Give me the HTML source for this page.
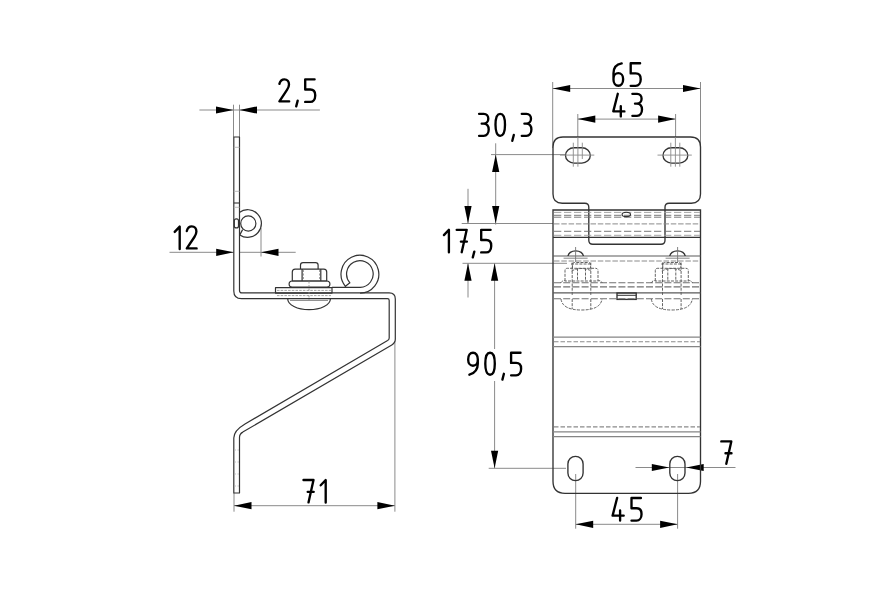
<!DOCTYPE html><html><head><meta charset="utf-8"><style>html,body{margin:0;padding:0;background:#fff;}svg{display:block;}</style></head><body>
<svg width="880" height="600" viewBox="0 0 880 600">
<rect width="880" height="600" fill="#fff"/>
<g stroke="#8a8a8a" stroke-width="1" fill="none">
<line x1="199.4" y1="110" x2="319.9" y2="110"/>
<line x1="233.5" y1="104.7" x2="233.5" y2="137"/>
<line x1="239.5" y1="104.7" x2="239.5" y2="137"/>
<line x1="169.5" y1="252.3" x2="295.7" y2="252.3"/>
<line x1="261" y1="228" x2="261" y2="256.5"/>
<line x1="234" y1="493" x2="234" y2="511.7"/>
<line x1="394.9" y1="338" x2="394.9" y2="511.7"/>
<line x1="234" y1="505.7" x2="394.9" y2="505.7"/>
<line x1="552.7" y1="82" x2="552.7" y2="148"/>
<line x1="700.5" y1="82" x2="700.5" y2="148"/>
<line x1="552.7" y1="88.5" x2="700.5" y2="88.5"/>
<line x1="577.8" y1="114" x2="577.8" y2="137"/>
<line x1="675.6" y1="114" x2="675.6" y2="137"/>
<line x1="577.8" y1="119.1" x2="675.6" y2="119.1"/>
<line x1="495.7" y1="143.3" x2="495.7" y2="224.6"/>
<line x1="491" y1="154.6" x2="565" y2="154.6"/>
<line x1="461.7" y1="223.5" x2="553" y2="223.5"/>
<line x1="468" y1="188.8" x2="468" y2="223.5"/>
<line x1="468" y1="263.3" x2="468" y2="297.5"/>
<line x1="462.5" y1="263.3" x2="567" y2="263.3"/>
<line x1="494.6" y1="263.3" x2="494.6" y2="349"/>
<line x1="494.6" y1="381" x2="494.6" y2="468.3"/>
<line x1="488.7" y1="468.3" x2="566" y2="468.3"/>
<line x1="635.5" y1="467.5" x2="735.5" y2="467.5"/>
<line x1="575.7" y1="474" x2="575.7" y2="528.7"/>
<line x1="677.6" y1="474" x2="677.6" y2="528.7"/>
<line x1="575.7" y1="524.3" x2="677.6" y2="524.3"/>
</g>
<g fill="#000" stroke="none">
<polygon points="233.50,110.00 216.00,106.40 216.00,113.60"/>
<polygon points="239.50,110.00 257.00,106.40 257.00,113.60"/>
<polygon points="233.70,252.30 216.20,248.70 216.20,255.90"/>
<polygon points="261.00,252.30 278.50,248.70 278.50,255.90"/>
<polygon points="234.00,505.70 251.50,502.10 251.50,509.30"/>
<polygon points="394.90,505.70 377.40,502.10 377.40,509.30"/>
<polygon points="552.70,88.50 570.20,84.90 570.20,92.10"/>
<polygon points="700.50,88.50 683.00,84.90 683.00,92.10"/>
<polygon points="577.80,119.10 595.30,115.50 595.30,122.70"/>
<polygon points="675.60,119.10 658.10,115.50 658.10,122.70"/>
<polygon points="495.70,154.60 492.10,172.10 499.30,172.10"/>
<polygon points="495.70,223.50 492.10,206.00 499.30,206.00"/>
<polygon points="468.00,223.50 464.40,206.00 471.60,206.00"/>
<polygon points="468.00,263.30 464.40,280.80 471.60,280.80"/>
<polygon points="494.60,263.30 491.00,280.80 498.20,280.80"/>
<polygon points="494.60,468.30 491.00,450.80 498.20,450.80"/>
<polygon points="669.30,467.50 651.80,463.90 651.80,471.10"/>
<polygon points="686.20,467.50 703.70,463.90 703.70,471.10"/>
<polygon points="575.70,524.30 593.20,520.70 593.20,527.90"/>
<polygon points="677.60,524.30 660.10,520.70 660.10,527.90"/>
</g>
<g fill="none" stroke="#000" stroke-width="2.35" stroke-linecap="round" stroke-linejoin="round">
<path d="M0,4.6 C0.8,1.6 2.8,0 5,0 C7.8,0 9.6,2.1 9.6,5.1 C9.6,7.1 8.9,8.6 7.6,10.6 L0,22 H9.8" transform="translate(279.4,79.3)"/>
<path d="M1.5,0 L0,5.8" transform="translate(296.2,100.6)"/>
<path d="M9.4,0 H0 V10.2 H5 C8.2,10.2 10,12.5 10,15.8 V16.4 C10,20 7.9,22.6 5,22.6 H0" transform="translate(305.2,79.3)"/>
<path d="M8.2,0.2 C3.6,1 0,4.2 0,10 V16.5 C0,19.9 2,22.5 4.8,22.5 C7.6,22.5 9.6,19.9 9.6,16.5 V15.5 C9.6,12.2 7.6,9.9 4.8,9.9 C2,9.9 0,12.2 0,15.5" transform="translate(613.5,63.2)"/>
<path d="M9.4,0 H0 V10.2 H5 C8.2,10.2 10,12.5 10,15.8 V16.4 C10,20 7.9,22.6 5,22.6 H0" transform="translate(630.7,63.2)"/>
<path d="M4.5,0 L0,17.6 H11.1 M7.5,12.4 V22.6" transform="translate(613.3,93.8)"/>
<path d="M0,0 H4.7 C7.5,0 9.2,2.2 9.2,4.9 C9.2,7.7 7.3,9.8 4.4,9.8 H2.6 M4.4,9.8 C7.9,9.8 9.6,12.4 9.6,15.7 C9.6,19.5 7.6,22 4.6,22 H0" transform="translate(632.4,93.8)"/>
<path d="M0,0 H4.7 C7.5,0 9.2,2.2 9.2,4.9 C9.2,7.7 7.3,9.8 4.4,9.8 H2.6 M4.4,9.8 C7.9,9.8 9.6,12.4 9.6,15.7 C9.6,19.5 7.6,22 4.6,22 H0" transform="translate(479.1,113.8)"/>
<path d="M4.75,0 C7.9,0 9.5,4.6 9.5,11 C9.5,17.4 7.9,22 4.75,22 C1.6,22 0,17.4 0,11 C0,4.6 1.6,0 4.75,0 Z" transform="translate(495.5,113.8)"/>
<path d="M1.5,0 L0,5.8" transform="translate(512.3,135)"/>
<path d="M0,0 H4.7 C7.5,0 9.2,2.2 9.2,4.9 C9.2,7.7 7.3,9.8 4.4,9.8 H2.6 M4.4,9.8 C7.9,9.8 9.6,12.4 9.6,15.7 C9.6,19.5 7.6,22 4.6,22 H0" transform="translate(521.8,113.8)"/>
<path d="M0,5.3 L5,0 V22.5" transform="translate(443.9,229.8)"/>
<path d="M0,0 H10 L5,22.4 M4.2,11.8 H10.2" transform="translate(456.7,229.8)"/>
<path d="M1.5,0 L0,5.8" transform="translate(472.8,251.6)"/>
<path d="M9.4,0 H0 V10.2 H5 C8.2,10.2 10,12.5 10,15.8 V16.4 C10,20 7.9,22.6 5,22.6 H0" transform="translate(481.2,229.8)"/>
<path d="M1.2,22 C6,20.6 9.6,17 9.6,11 V6.5 C9.6,2.6 7.6,0 4.8,0 C2,0 0,2.6 0,6.5 V7.3 C0,10.6 2,13 4.8,13 C7.6,13 9.6,10.6 9.6,7.3" transform="translate(468.2,352.7)"/>
<path d="M4.75,0 C7.9,0 9.5,4.6 9.5,11 C9.5,17.4 7.9,22 4.75,22 C1.6,22 0,17.4 0,11 C0,4.6 1.6,0 4.75,0 Z" transform="translate(485.3,352.7)"/>
<path d="M1.5,0 L0,5.8" transform="translate(502.4,373.8)"/>
<path d="M9.4,0 H0 V10.2 H5 C8.2,10.2 10,12.5 10,15.8 V16.4 C10,20 7.9,22.6 5,22.6 H0" transform="translate(511.1,352.7)"/>
<path d="M0,5.3 L5,0 V22.5" transform="translate(174.7,226.6)"/>
<path d="M0,4.6 C0.8,1.6 2.8,0 5,0 C7.8,0 9.6,2.1 9.6,5.1 C9.6,7.1 8.9,8.6 7.6,10.6 L0,22 H9.8" transform="translate(186.8,226.4)"/>
<path d="M0,0 H10 L5,22.4 M4.2,11.8 H10.2" transform="translate(303.5,480)"/>
<path d="M0,5.3 L5,0 V22.5" transform="translate(320.7,480)"/>
<path d="M0,0 H10 L5,22.4 M4.2,11.8 H10.2" transform="translate(721.3,441.4)"/>
<path d="M4.5,0 L0,17.6 H11.1 M7.5,12.4 V22.6" transform="translate(612.6,498)"/>
<path d="M9.4,0 H0 V10.2 H5 C8.2,10.2 10,12.5 10,15.8 V16.4 C10,20 7.9,22.6 5,22.6 H0" transform="translate(631.5,498)"/>
</g>
<g stroke="#333333" stroke-width="1.35" fill="none">
<path d="M553,210 V481.3 Q553,493.3 565,493.3 H688.5 Q700.5,493.3 700.5,481.3 V210 Z"/>
<path d="M553,147 Q553,137 563,137 H690.5 Q700.5,137 700.5,147 V194 Q700.5,203.2 691.3,203.2 H669 Q665,203.2 665,207.2 V240.2 Q665,244.2 661,244.2 H592.8 Q588.8,244.2 588.8,240.2 V207.2 Q588.8,203.2 584.8,203.2 H562.2 Q553,203.2 553,194 Z"/>
<line x1="553" y1="237.3" x2="700.5" y2="237.3"/>
</g>
<g stroke="#5a5a5a" stroke-width="1.15" fill="none">
<line x1="553" y1="256" x2="700.5" y2="256"/>
<line x1="553" y1="292.8" x2="700.5" y2="292.8"/>
</g>
<g stroke="#858585" stroke-width="1.1" fill="none">
<line x1="553" y1="337.1" x2="700.5" y2="337.1"/>
<line x1="553" y1="346.6" x2="700.5" y2="346.6"/>
<line x1="553" y1="431.9" x2="700.5" y2="431.9"/>
<line x1="553" y1="436.6" x2="700.5" y2="436.6"/>
</g>
<g stroke="#333333" stroke-width="1.35" fill="none">
<rect x="565.5" y="147.75" width="24.8" height="15.3" rx="8.5" ry="7.65"/>
<rect x="663.0" y="147.75" width="24.8" height="15.3" rx="8.5" ry="7.65"/>
<rect x="567.9" y="456.3" width="15.2" height="24.4" rx="7.6" ry="7.6"/>
<rect x="669.8" y="456.3" width="15.2" height="24.4" rx="7.6" ry="7.6"/>
<path d="M568.1,256 A7.6,5.2 0 0 1 583.3000000000001,256"/>
<path d="M669.9,256 A7.6,5.2 0 0 1 685.1,256"/>
<rect x="617" y="293" width="19.2" height="6.4"/>
<line x1="617" y1="295.3" x2="636.2" y2="295.3" stroke-width="1"/>
</g>
<g stroke="#8a8a8a" stroke-width="1" fill="none" stroke-dasharray="5.5,1.8">
<line x1="554" y1="223.9" x2="700" y2="223.9"/>
<line x1="554" y1="261" x2="700" y2="261"/>
</g>
<g stroke="#8a8a8a" stroke-width="1.1" fill="none" stroke-dasharray="4.5,2">
<line x1="554" y1="341.8" x2="700" y2="341.8"/>
<line x1="554" y1="426.9" x2="700" y2="426.9"/>
</g>
<g stroke="#6a6a6a" stroke-width="0.9" fill="none" stroke-dasharray="7.3,2.7">
<line x1="554" y1="215.3" x2="700" y2="215.3"/>
<line x1="554" y1="217.2" x2="700" y2="217.2"/>
<line x1="554" y1="231.3" x2="700" y2="231.3"/>
</g>
<g stroke="#707070" stroke-width="1.1" fill="none" stroke-dasharray="7,2.2">
<line x1="554" y1="282.8" x2="700" y2="282.8"/>
<line x1="554" y1="286.9" x2="700" y2="286.9"/>
<line x1="554" y1="298.8" x2="700" y2="298.8"/>
</g>
<g stroke="#333333" stroke-width="1.2" fill="none" stroke-linejoin="round">
<path d="M233.8,137 V291 Q233.8,298.7 241.5,298.7 H387.5 Q389.2,298.7 389.2,300.4 V338 Q389.2,339.6 387.6,340.6 L245,424 Q233.8,430.6 233.8,438 V493 H239.5 V437.5 Q239.5,433.8 242.8,432.1 L391.8,344.9 Q395.3,342.9 395.3,339 V299 Q395.3,292.9 389.2,292.9 H242 Q239.5,292.9 239.5,290.4 V137 Z" fill="#fff"/>
<path d="M287.7,298.7 A21.35,11 0 0 0 330.4,298.7"/>
<rect x="275.5" y="287.7" width="56.5" height="5.4"/>
<rect x="289.1" y="281" width="40.8" height="6.2" rx="3.1"/>
<path d="M292.3,281 V272 Q292.3,269.1 295.2,269.1 H323.8 Q326.7,269.1 326.7,272 V281 Z"/>
<line x1="302.1" y1="269.1" x2="302.1" y2="281"/><line x1="320.8" y1="269.1" x2="320.8" y2="281"/>
<path d="M300.5,269.1 V265 Q300.5,262.7 303,262.7 H315.6 Q318.1,262.7 318.1,265 V269.1"/>
<path d="M332,287.3 H360.2 A13.3,13.3 0 1 0 349.9,282.8 L345.4,286.3 A18.9,18.9 0 1 1 360.1,293.1"/>
<path d="M239.3,212.5 A13.8,13.8 0 1 1 239.8,234.9 L242.6,229.6"/>
<circle cx="248.3" cy="223.5" r="7.6"/>
<rect x="234.3" y="218.8" width="4.2" height="9.1" rx="2"/>
</g>
<g stroke="#8a8a8a" stroke-width="0.9" fill="none">
<line x1="573.3" y1="142.7" x2="573.3" y2="166.7"/>
<line x1="582.3" y1="142.7" x2="582.3" y2="159"/>
<line x1="577.9" y1="137" x2="577.9" y2="166.7"/>
<line x1="560.0" y1="155.1" x2="594.3" y2="155.1"/>
<line x1="670.8" y1="142.7" x2="670.8" y2="166.7"/>
<line x1="679.8" y1="142.7" x2="679.8" y2="166.7"/>
<line x1="675.4" y1="137" x2="675.4" y2="166.7"/>
<line x1="657.5" y1="155.1" x2="691.8" y2="155.1"/>
</g>
<g stroke="#9a9a9a" stroke-width="0.9" fill="none" stroke-dasharray="7.3,2.7">
<line x1="554" y1="212.4" x2="700" y2="212.4"/>
<line x1="554" y1="235.3" x2="700" y2="235.3"/>
</g>
<g stroke="#5c5c5c" stroke-width="0.95" fill="none" stroke-dasharray="3,1.2">
<path d="M565.0,281 V270.5 Q565.0,268.3 567.5,268.3 H595.5 Q598.0,268.3 598.0,270.5 V281"/>
<path d="M572.5,268.3 V264.5 Q572.5,262.5 574.5,262.5 H588.5 Q590.5,262.5 590.5,264.5 V268.3"/>
<line x1="572.2" y1="262.5" x2="572.2" y2="296"/>
<line x1="590.8" y1="262.5" x2="590.8" y2="296"/>
<line x1="577.5" y1="268.3" x2="577.5" y2="281"/>
<line x1="585.5" y1="268.3" x2="585.5" y2="281"/>
<path d="M560.5,283 Q563.5,279.5 565.0,281 H598.0 Q599.5,279.5 602.5,283"/>
<path d="M561.0,299 Q562.5,310 581.5,310 Q600.5,310 602.0,299"/>
<line x1="571.0" y1="264" x2="592.0" y2="264"/>
<path d="M571.5,271 Q581.5,266 591.5,271"/>
<line x1="572.2" y1="299" x2="572.2" y2="309"/>
<line x1="590.8" y1="299" x2="590.8" y2="309"/>
<path d="M655.3,281 V270.5 Q655.3,268.3 657.8,268.3 H685.8 Q688.3,268.3 688.3,270.5 V281"/>
<path d="M662.8,268.3 V264.5 Q662.8,262.5 664.8,262.5 H678.8 Q680.8,262.5 680.8,264.5 V268.3"/>
<line x1="662.5" y1="262.5" x2="662.5" y2="296"/>
<line x1="681.0999999999999" y1="262.5" x2="681.0999999999999" y2="296"/>
<line x1="667.8" y1="268.3" x2="667.8" y2="281"/>
<line x1="675.8" y1="268.3" x2="675.8" y2="281"/>
<path d="M650.8,283 Q653.8,279.5 655.3,281 H688.3 Q689.8,279.5 692.8,283"/>
<path d="M651.3,299 Q652.8,310 671.8,310 Q690.8,310 692.3,299"/>
<line x1="661.3" y1="264" x2="682.3" y2="264"/>
<path d="M661.8,271 Q671.8,266 681.8,271"/>
<line x1="662.5" y1="299" x2="662.5" y2="309"/>
<line x1="681.0999999999999" y1="299" x2="681.0999999999999" y2="309"/>
</g>
<g stroke="#777" stroke-width="0.9" fill="none">
<line x1="563.6" y1="258.2" x2="587.6" y2="258.2"/>
<line x1="575.6" y1="247" x2="575.6" y2="262"/>
<line x1="665.6" y1="258.2" x2="689.6" y2="258.2"/>
<line x1="677.6" y1="247" x2="677.6" y2="262"/>
</g>
<ellipse cx="626.3" cy="214.4" rx="4.2" ry="2.2" fill="none" stroke="#333333" stroke-width="1.1"/>
<g stroke="#333333" stroke-width="1.1" fill="none">
<line x1="233.8" y1="203" x2="239.5" y2="203"/>
</g>
<g stroke="#b4b4b4" stroke-width="0.9" fill="none">
<line x1="233.8" y1="147.3" x2="239.5" y2="147.3"/>
<line x1="233.8" y1="191.3" x2="239.5" y2="191.3"/>
<line x1="233.8" y1="207.3" x2="239.5" y2="207.3"/>
</g>
<g stroke="#b4b4b4" stroke-width="0.8" fill="none">
<line x1="234.5" y1="450" x2="236" y2="450"/>
<line x1="237.5" y1="450" x2="239" y2="450"/>
<line x1="234.5" y1="462" x2="236" y2="462"/>
<line x1="237.5" y1="462" x2="239" y2="462"/>
<line x1="234.5" y1="474" x2="236" y2="474"/>
<line x1="237.5" y1="474" x2="239" y2="474"/>
<line x1="234.5" y1="486" x2="236" y2="486"/>
<line x1="237.5" y1="486" x2="239" y2="486"/>
</g>
<g stroke="#8a8a8a" stroke-width="0.8" fill="none" stroke-dasharray="2.5,1.2">
<line x1="277" y1="290.4" x2="331" y2="290.4"/>
<line x1="277" y1="295.6" x2="331" y2="295.6"/>
</g>
<g stroke="#8a8a8a" stroke-width="0.8" fill="none" stroke-dasharray="2,1.5">
<line x1="303.5" y1="270" x2="303.5" y2="280"/>
<line x1="319.5" y1="270" x2="319.5" y2="280"/>
<line x1="309" y1="281.5" x2="309" y2="300"/>
</g>
<g stroke="#777" stroke-width="0.9" fill="none">
<line x1="290" y1="300.4" x2="328" y2="300.4"/>
</g>
</svg></body></html>
